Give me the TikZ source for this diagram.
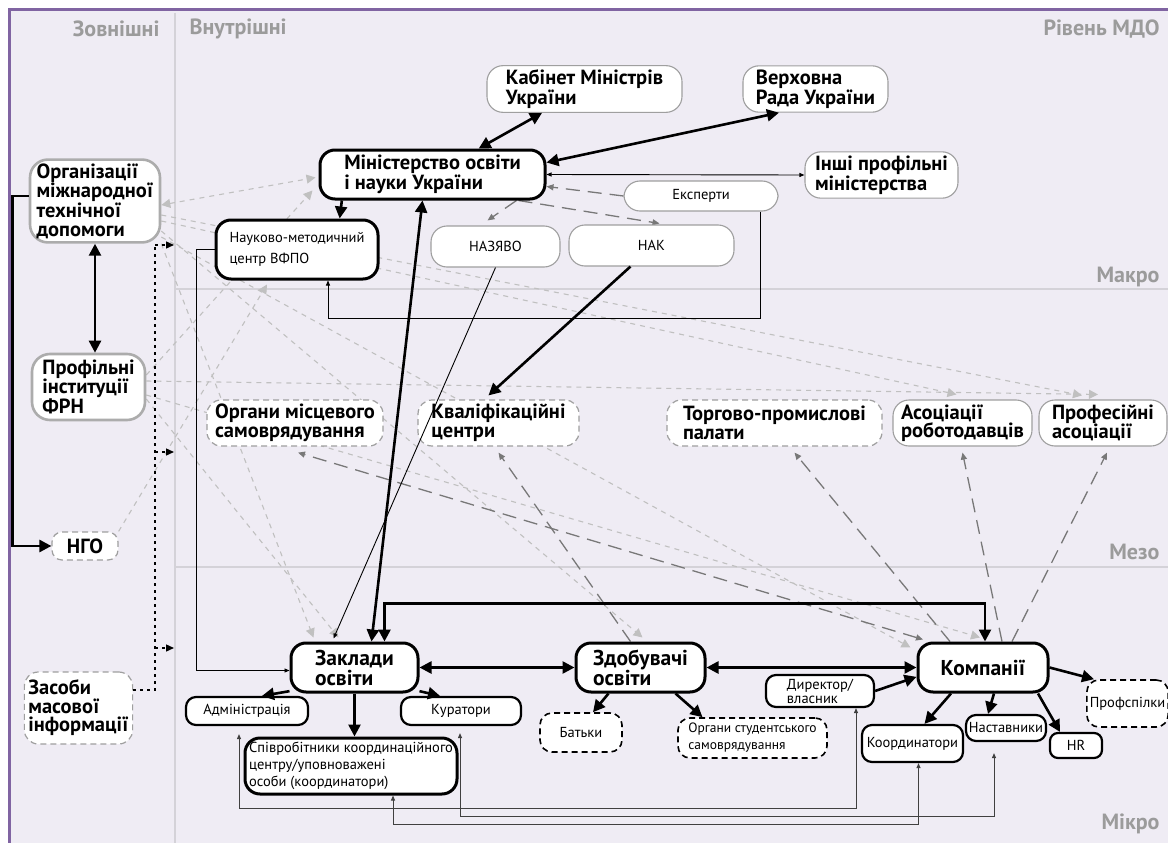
\documentclass[tikz,border=0pt]{standalone}
\usepackage{fontspec}
\setmainfont{PT Sans}
\usetikzlibrary{arrows.meta,positioning,calc}

\pgfdeclarelayer{back}
\pgfdeclarelayer{links}
\pgfsetlayers{back,links,main}

\definecolor{bgpanel}{RGB}{239,236,244}
\definecolor{framepurple}{RGB}{128,100,162}
\definecolor{gridgray}{RGB}{212,210,216}
\definecolor{levelgray}{RGB}{155,155,155}
\definecolor{linkgray}{RGB}{192,192,192}
\definecolor{midgray}{RGB}{120,120,120}

\tikzset{
  bigtxt/.style={font=\fontsize{20.5}{18.5}\selectfont\bfseries, align=left, inner sep=4pt},
  hugetxt/.style={font=\fontsize{21.5}{20}\selectfont\bfseries, align=left, inner sep=4pt},
  smalltxt/.style={font=\fontsize{14.5}{17}\selectfont, align=left, inner sep=3pt},
  thickbox/.style={rectangle, draw, line width=3pt, fill=white, rounded corners=15pt},
  midbox/.style={rectangle, draw, line width=2.2pt, fill=white, rounded corners=10pt},
  outbox/.style={rectangle, draw=gray!75, line width=1.1pt, fill=white, rounded corners=16pt},
  extbox/.style={rectangle, draw=gray!65, line width=2.6pt, fill=white, rounded corners=18pt},
  dashbox/.style={rectangle, draw=gray!75, line width=1.2pt, dash pattern=on 6pt off 4pt, fill=white, rounded corners=14pt},
  blackdash/.style={rectangle, draw, line width=1.6pt, dash pattern=on 6pt off 4pt, fill=white, rounded corners=12pt},
  levellabel/.style={font=\fontsize{22}{22}\selectfont\bfseries, text=levelgray},
  gridline/.style={gridgray, line width=1.8pt},
  bigarr/.style={line width=2.6pt, >={Triangle[length=12pt,width=12pt]}},
  thinarr/.style={line width=0.9pt, >={Triangle[length=5pt,width=4pt]}},
  backarr/.style={black!75, line width=1pt, >={Triangle[length=5pt,width=4pt]}},
  dotline/.style={line width=1.4pt, dash pattern=on 3pt off 4pt, >={Triangle[length=8pt,width=7pt]}},
  greyarr/.style={color=midgray, line width=1.3pt, dash pattern=on 14pt off 8pt, >={Triangle[length=7pt,width=6pt]}},
  lightarr/.style={color=linkgray, line width=1.1pt, dash pattern=on 5pt off 5pt, >={Triangle[length=9pt,width=9pt]}}
}

\begin{document}
\begin{tikzpicture}[x=1pt, y=-1pt]
  \useasboundingbox (0,0) rectangle (1168,843);

  \begin{pgfonlayer}{back}
    \fill[bgpanel] (9,10) rectangle (1168,843);
    \draw[framepurple, line width=3pt] (9,843) -- (9,10) -- (1168,10);
    \draw[gridline] (175,13) -- (175,843);
    \draw[gridline] (175,289) -- (1168,289);
    \draw[gridline] (175,567) -- (1168,567);
  \end{pgfonlayer}

  % levels
  \node[levellabel, anchor=east] (zovn) at (163,29) {Зовнішні};
  \node[levellabel, anchor=west] (vnutr) at (186,29) {Внутрішні};
  \node[levellabel, anchor=east] (mdo) at (1163,29) {Рівень МДО};
  \node[levellabel, anchor=east] (makro) at (1163,277) {Макро};
  \node[levellabel, anchor=east] (mezo) at (1163,552) {Мезо};
  \node[levellabel, anchor=east] (mikro) at (1163,824) {Мікро};

  % macro level
  \node[outbox, bigtxt,
        minimum width = 195pt,
        minimum height = 46pt] (kmu) at (584.5,89) {Кабінет Міністрів\\України};
  \node[outbox, bigtxt,
        minimum width = 145pt,
        minimum height = 46pt] (vru) at (815.5,89) {Верховна\\Рада України};
  \node[thickbox, bigtxt,
        minimum width = 225pt,
        minimum height = 49pt] (mon) at (432.5,174.5) {Міністерство освіти\\і науки України};
  \node[outbox, bigtxt,
        minimum width = 153pt,
        minimum height = 46pt] (inshi) at (881.5,175) {Інші профільні\\міністерства};
  \node[outbox, smalltxt,
        minimum width = 154pt,
        minimum height = 30pt] (eksp) at (701,196) {Експерти};
  \node[outbox, smalltxt,
        minimum width = 129pt,
        minimum height = 41pt] (nazyavo) at (495.5,246.5) {НАЗЯВО};
  \node[outbox, smalltxt,
        minimum width = 165pt,
        minimum height = 41pt] (nak) at (651.5,245.5) {НАК};
  \node[thickbox, smalltxt,
        font=\fontsize{14.5}{21}\selectfont,
        minimum width = 162pt,
        minimum height = 59pt] (nmc) at (297,249.5) {Науково-методичний\\центр ВФПО};

  % external actors
  \node[extbox, bigtxt,
        minimum width = 130pt,
        minimum height = 82pt] (omtd) at (95,201) {Організації\\міжнародної\\технічної\\допомоги};
  \node[extbox, bigtxt,
        minimum width = 113pt,
        minimum height = 66pt] (pfrn) at (88.5,387) {Профільні\\інституції\\ФРН};
  \node[dashbox, bigtxt,
        rounded corners = 10pt,
        minimum width = 66pt,
        minimum height = 28pt] (ngo) at (85,546) {НГО};
  \node[dashbox, bigtxt,
        minimum width = 105pt,
        minimum height = 72pt] (zmi) at (78.5,708) {Засоби\\масової\\інформації};

  % meso level
  \node[dashbox, bigtxt,
        minimum width = 176pt,
        minimum height = 46pt] (oms) at (295,423) {Органи місцевого\\самоврядування};
  \node[dashbox, bigtxt,
        minimum width = 161pt,
        minimum height = 46pt] (kvc) at (498.5,423) {Кваліфікаційні\\центри};
  \node[dashbox, bigtxt,
        minimum width = 215pt,
        minimum height = 46pt] (tpp) at (774.5,423) {Торгово-промислові\\палати};
  \node[outbox, bigtxt,
        minimum width = 139pt,
        minimum height = 46pt] (aro) at (962.5,423) {Асоціації\\роботодавців};
  \node[outbox, bigtxt,
        minimum width = 128pt,
        minimum height = 46pt] (pas) at (1103,423) {Професійні\\асоціації};

  % micro level
  \node[thickbox, hugetxt,
        minimum width = 127pt,
        minimum height = 49pt] (zo) at (354.5,667.5) {Заклади\\освіти};
  \node[thickbox, hugetxt,
        minimum width = 129pt,
        minimum height = 49pt] (zdo) at (640.5,667.5) {Здобувачі\\освіти};
  \node[thickbox, hugetxt,
        minimum width = 130pt,
        minimum height = 49pt] (komp) at (983,667.5) {Компанії};
  \node[midbox, smalltxt,
        minimum width = 122pt,
        minimum height = 28pt] (adm) at (247,711) {Адміністрація};
  \node[midbox, smalltxt,
        minimum width = 120pt,
        minimum height = 28pt] (kur) at (461,711) {Куратори};
  \node[thickbox, smalltxt,
        minimum width = 212pt,
        minimum height = 56pt] (spiv) at (351,766) {Співробітники координаційного\\центру/уповноважені\\особи (координатори)};
  \node[blackdash, smalltxt,
        minimum width = 82pt,
        minimum height = 39pt] (batky) at (581,732.5) {Батьки};
  \node[blackdash, smalltxt,
        font=\fontsize{13.5}{17}\selectfont,
        minimum width = 149pt,
        minimum height = 40pt] (osv) at (752.5,738) {Органи студентського\\самоврядування};
  \node[midbox, smalltxt,
        font=\fontsize{14.5}{14}\selectfont,
        minimum width = 108pt,
        minimum height = 32pt] (dir) at (820,691) {Директор/\\власник};
  \node[midbox, smalltxt,
        minimum width = 101pt,
        minimum height = 37pt] (koord) at (912.5,743.5) {Координатори};
  \node[midbox, smalltxt,
        minimum width = 80pt,
        minimum height = 26pt] (nast) at (1006,728) {Наставники};
  \node[midbox, smalltxt,
        rounded corners = 8pt,
        minimum width = 52pt,
        minimum height = 25pt] (hr) at (1076,745.5) {HR};
  \node[blackdash, smalltxt,
        minimum width = 79pt,
        minimum height = 47pt] (prof) at (1127.5,703.5) {Профспілки};

  \coordinate (dotjoin) at (155,245);
  \coordinate (dot1) at (174,245);
  \coordinate (dot2) at (174,452);
  \coordinate (dot3) at (174,648);

  \begin{pgfonlayer}{links}
    % influence of external actors
    \path[lightarr]
      ($(omtd.east)+(0,4)$) edge[<->] ($(mon.west)+(-3,3)$)
      ($(pfrn.east)+(0,-12)$) edge[->] ($(mon.west)+(-6,16)$)
      (ngo.north east) edge[->] ($(nmc.south)+(-30,4)$)
      (omtd.south east) edge[->] ($(zo.north)+(-41,-4)$)
      ($(pfrn.east)+(0,12)$) edge[->] ($(zo.north)+(-16,-4)$)
      ($(omtd.east)+(0,30)$) edge[->] ($(zdo.north)+(2,-4)$)
      ($(omtd.east)+(0,36)$) edge[->] ($(komp.north west)+(-6,6)$)
      ($(pfrn.east)+(0,8)$) edge[->] ($(komp.north)+(-3,-4)$)
      ($(omtd.east)+(0,20)$) edge[->] ($(aro.north)+(-6,-5)$)
      ($(omtd.east)+(0,14)$) edge[->] ($(pas.north)+(-21,-4)$)
      ($(pfrn.east)+(0,-6)$) edge[->] ($(pas.north)+(-5,-5)$);

    % consultative links
    \path[greyarr]
      (eksp.west) edge[->] (mon.-6)
      ($(mon.south)+(84,0)$) edge[->] ($(nazyavo.north)+(-8,-5)$)
      ($(mon.south)+(86,0)$) edge[->] ($(nak.north)+(8,-1)$)
      ($(komp.north)+(-60,-2)$) edge[<->] ($(oms.south)+(3,6)$)
      ($(zdo.north)+(-10,0)$) edge[->] ($(kvc.south)+(0,6)$)
      ($(komp.north)+(-33,0)$) edge[->] ($(tpp.south)+(20,6)$)
      ($(komp.north)+(19,0)$) edge[->] ($(aro.south)+(0,6)$)
      ($(komp.north)+(29,0)$) edge[->] ($(pas.south)+(4,6)$);
  \end{pgfonlayer}

  % mass media
  \draw[dotline] ($(zmi.east)+(0,-18)$) -| (dotjoin);
  \path[dotline]
    (dotjoin) edge[->] (dot1)
    (dotjoin |- dot2) edge[->] (dot2)
    (dotjoin |- dot3) edge[->] (dot3);

  % main links
  \path[bigarr]
    (mon) edge[<->] (kmu)
    (mon.6) edge[<->] (vru.213)
    (mon.196) edge[->] (nmc.36)
    (omtd.south) edge[<->] (omtd.south |- pfrn.north)
    (nak.225) edge[->] ($(kvc.north)+(-10,-4)$)
    ($(zo.north)+(17,0)$) edge[<->] ($(mon.south)+(-10,0)$)
    (zo) edge[<->] (zdo)
    (zdo) edge[<->] (komp)
    (dir.east) edge[->] (komp.188)
    (zo.200) edge[->] ($(adm.north)+(15,0)$)
    (zo.south) edge[->] (zo.south |- spiv.north)
    (zo.-20) edge[->] ($(kur.north)+(-21,0)$)
    ($(zdo.south)+(-32,0)$) edge[->] ($(batky.north)+(12,0)$)
    ($(zdo.south)+(35,0)$) edge[->] ($(osv.north)+(-50,0)$)
    ($(komp.south)+(-32,0)$) edge[->] ($(koord.north)+(12,0)$)
    ($(komp.south)+(11,0)$) edge[->] ($(nast.north)+(-18,0)$)
    ($(komp.south)+(55,0)$) edge[->] ($(hr.north)+(-16,0)$)
    (komp.east) edge[->] ($(prof.north west)+(8,0)$);
  \draw[bigarr, <->] ($(zo.north)+(30,0)$) -- ++(0,-38) -| ($(komp.north)+(2,0)$);
  \draw[bigarr, ->] ($(omtd.west)+(0,-5)$) -- ++(-16,0) |- (ngo.west);

  % thin links
  \draw[thinarr, <->] (mon.east) -- (inshi.west);
  \draw[thinarr, ->] ($(eksp.south)+(59,0)$) -- ++(0,107) -| ($(nmc.south)+(31,0)$);
  \draw[thinarr, ->] (nazyavo.south) -- ($(zo.north)+(-21,-3)$);
  \draw[thinarr, ->] (nmc.west) -- ++(-18,0) |- ($(zo.west)+(0,3)$);

  % feedback between schools and companies
  \draw[backarr, <->] ($(adm.south)+(-8,8)$) -- ++(0,74) -| ($(dir.south)+(36,0)$);
  \draw[backarr, <->] ($(kur.south)+(-1,7)$) -- ++(0,83) -| ($(nast.south)+(-12,11)$);
  \draw[backarr, <->] ($(spiv.south)+(42,0)$) -- ++(0,29) -| ($(koord.south)+(6,0)$);

\end{tikzpicture}
\end{document}
